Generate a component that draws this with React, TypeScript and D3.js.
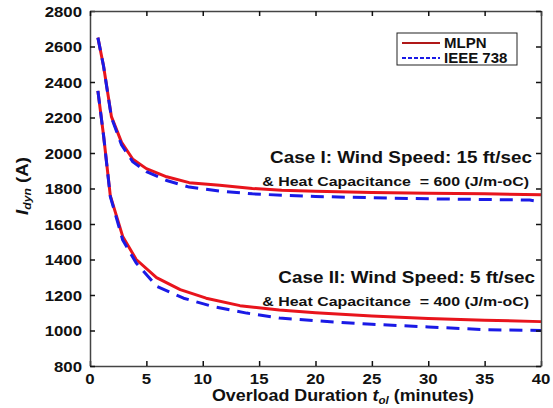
import React, { useEffect, useRef } from "react";
import * as d3 from "d3";

// overload duration (min) vs dynamic current (A)
const case1Mlpn: [number, number][] = [
  [0.7, 2650], [1.2, 2490], [1.9, 2205], [2.8, 2060], [3.8, 1965], [5, 1912],
  [6.8, 1866], [8.8, 1833], [11.5, 1818], [14.4, 1800], [17, 1790], [20, 1785],
  [25, 1778], [30, 1773], [35, 1770], [40, 1765],
];
const case1Ieee: [number, number][] = [
  [0.7, 2650], [1.2, 2490], [1.9, 2200], [2.8, 2045], [3.8, 1950], [5, 1895],
  [6.8, 1845], [8.8, 1808], [11.5, 1785], [14.4, 1770], [17, 1762], [20, 1755],
  [25, 1748], [30, 1742], [35, 1738], [39, 1735], [40, 1725],
];
const case2Mlpn: [number, number][] = [
  [0.7, 2350], [1.2, 2100], [1.8, 1760], [2.9, 1530], [4.1, 1400], [5.9, 1298],
  [8, 1230], [10.3, 1182], [13.3, 1140], [16.8, 1115], [20, 1100], [25, 1082],
  [30, 1068], [35, 1058], [40, 1050],
];
const case2Ieee: [number, number][] = [
  [0.7, 2350], [1.2, 2100], [1.8, 1755], [2.9, 1510], [4.1, 1380], [5.9, 1250],
  [8.3, 1182], [10.9, 1135], [13.9, 1098], [16.8, 1070], [20, 1055], [25, 1035],
  [30, 1020], [35, 1005], [40, 1000],
];
const xTicks = [0, 5, 10, 15, 20, 25, 30, 35, 40];
const yTicks = [800, 1000, 1200, 1400, 1600, 1800, 2000, 2200, 2400, 2600, 2800];
const legendLabels = ["MLPN", "IEEE 738"];
const notes = [
  "Case I: Wind Speed: 15 ft/sec",
  "& Heat Capacitance  = 600 (J/m-oC)",
  "Case II: Wind Speed: 5 ft/sec",
  "& Heat Capacitance  = 400 (J/m-oC)",
];

const W = 553;
const H = 408;
const m = { left: 90, right: 12, top: 11, bottom: 42 };
const FONT = "'Liberation Sans', Arial, sans-serif";

export default function App() {
  const ref = useRef<SVGSVGElement>(null);

  useEffect(() => {
    const svg = d3.select(ref.current);
    svg.selectAll("*").remove();

    const x = d3.scaleLinear().domain([0, 40]).range([m.left, W - m.right]);
    const y = d3.scaleLinear().domain([800, 2800]).range([H - m.bottom, m.top]);

    // bold text, a little wider than the font gives
    let label = (px: number, py: number, size: number, sx: number, anchor: string) =>
      svg
        .append("g")
        .attr("transform", "translate(" + px + "," + py + ") scale(" + sx + ",1)")
        .append("text")
        .attr("text-anchor", anchor)
        .attr("font-family", FONT)
        .attr("font-weight", "bold")
        .attr("font-size", size)
        .attr("fill", "#111")
        .style("white-space", "pre");

    const line = d3
      .line<[number, number]>()
      .x((d) => x(d[0]))
      .y((d) => y(d[1]));

    const curves = [
      { data: case1Mlpn, color: "#e8141c", dash: null },
      { data: case2Mlpn, color: "#e8141c", dash: null },
      { data: case1Ieee, color: "#1a1ae6", dash: "13,8" },
      { data: case2Ieee, color: "#1a1ae6", dash: "13,8" },
    ];
    curves.forEach((c) => {
      svg
        .append("path")
        .datum(c.data)
        .attr("d", line)
        .attr("fill", "none")
        .attr("stroke", c.color)
        .attr("stroke-width", 3)
        .attr("stroke-dasharray", c.dash)
        .attr("stroke-linejoin", "round");
    });

    // box with inward ticks on all four sides
    svg
      .append("g")
      .attr("transform", "translate(0," + (H - m.bottom) + ")")
      .call(d3.axisBottom(x).tickValues(xTicks).tickSizeInner(-5).tickSizeOuter(0).tickFormat(() => ""));
    svg
      .append("g")
      .attr("transform", "translate(" + m.left + ",0)")
      .call(d3.axisLeft(y).tickValues(yTicks).tickSizeInner(-5).tickSizeOuter(0).tickFormat(() => ""));
    svg
      .append("g")
      .attr("transform", "translate(0," + m.top + ")")
      .call(d3.axisTop(x).tickValues(xTicks).tickSizeInner(-5).tickSizeOuter(0).tickFormat(() => ""));
    svg
      .append("g")
      .attr("transform", "translate(" + (W - m.right) + ",0)")
      .call(d3.axisRight(y).tickValues(yTicks).tickSizeInner(-5).tickSizeOuter(0).tickFormat(() => ""));
    svg.selectAll(".domain").attr("stroke", "#444").attr("stroke-width", 1.5);
    svg.selectAll(".tick line").attr("stroke", "#111").attr("stroke-width", 1.5);

    // tick labels
    xTicks.forEach((t) => label(x(t), 384, 15, 1.12, "middle").text(String(t)));
    yTicks.forEach((t) => label(82, y(t) + 5.5, 15, 1.12, "end").text(String(t)));

    // axis titles
    const xt = label(343, 401, 17, 1.05, "middle");
    xt.append("tspan").text("Overload Duration ");
    xt.append("tspan").attr("font-style", "italic").text("t");
    xt.append("tspan").attr("font-style", "italic").attr("font-size", 11).attr("dy", 3).text("ol");
    xt.append("tspan").attr("dy", -3).text(" (minutes)");

    const yt = svg
      .append("g")
      .attr("transform", "translate(28," + 186 + ") rotate(-90) scale(1.1,1)")
      .append("text")
      .attr("text-anchor", "middle")
      .attr("font-family", FONT)
      .attr("font-weight", "bold")
      .attr("font-size", 17)
      .attr("fill", "#111");
    yt.append("tspan").attr("font-style", "italic").text("I");
    yt.append("tspan").attr("font-style", "italic").attr("font-size", 11).attr("dy", 3).text("dyn");
    yt.append("tspan").attr("dy", -3).text(" (A)");

    // legend
    const lg = svg.append("g").attr("transform", "translate(397,33)");
    lg.append("rect")
      .attr("width", 120)
      .attr("height", 32)
      .attr("fill", "white")
      .attr("stroke", "#222")
      .attr("stroke-width", 1);
    legendLabels.forEach((lab, i) => {
      const yy = 10 + i * 15;
      lg.append("line")
        .attr("x1", 5)
        .attr("x2", 43)
        .attr("y1", yy)
        .attr("y2", yy)
        .attr("stroke", i === 0 ? "#b01818" : "#1a1ae6")
        .attr("stroke-width", 2)
        .attr("stroke-dasharray", i === 0 ? null : "4,2");
      lg.append("text")
        .attr("x", 47)
        .attr("y", yy + 5)
        .attr("font-family", FONT)
        .attr("font-weight", "bold")
        .attr("font-size", 15)
        .attr("fill", "#111")
        .text(lab);
    });

    // annotations
    label(532, 163, 16, 1.18, "end").text(notes[0]);
    label(529, 186, 13.5, 1.18, "end").text(notes[1]);
    label(535, 283, 16, 1.18, "end").text(notes[2]);
    label(529, 306, 13.5, 1.18, "end").text(notes[3]);
  }, []);

  return (
    <svg ref={ref} width={W} height={H} style={{ display: "block", position: "absolute", left: 0, top: 0, background: "white" }} />
  );
}
